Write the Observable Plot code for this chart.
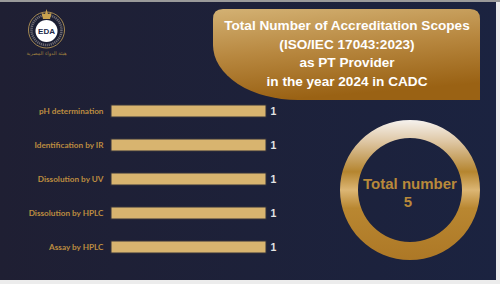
<!DOCTYPE html>
<html>
<head>
<meta charset="utf-8">
<script src="https://cdn.jsdelivr.net/npm/d3@7"></script>
<script src="https://cdn.jsdelivr.net/npm/@observablehq/plot@0.6"></script>
<style>
  html, body { margin: 0; padding: 0; background: #ececec; }
  #chart { width: 500px; height: 284px; overflow: hidden; }
  #chart svg { display: block; }
  g[aria-label="y-axis tick label"] text { font-weight: bold; }
</style>
</head>
<body>
<div id="chart"></div>
<script>
const categories = ["pH determination", "Identification by IR", "Dissolution by UV", "Dissolution by HPLC", "Assay by HPLC"];
const values = [1, 1, 1, 1, 1];
const titleLines = ["Total Number of Accreditation Scopes", "(ISO/IEC 17043:2023)", "as PT Provider", "in the year 2024 in CADC"];
const totalLabel = "Total number";
const logoText = "EDA";
const logoArabic = "هيئة الدواء المصرية";

const data = categories.map((c, i) => ({category: c, value: values[i]}));
const total = d3.sum(values);

const plot = Plot.plot({
  width: 500,
  height: 284,
  marginLeft: 111,
  marginRight: 234,
  marginTop: 83,
  marginBottom: 9,
  style: {background: "transparent", fontFamily: "Lato, 'Open Sans', sans-serif"},
  x: {domain: [0, 1], axis: null},
  y: {domain: categories, padding: 0.647, label: null},
  marks: [
    Plot.barX(data, {x: "value", y: "category", fill: "#d8b46f", stroke: "#34323a", strokeWidth: 1}),
    Plot.text(data, {x: "value", y: "category", text: d => String(d.value), dx: 4, textAnchor: "start",
      fill: "#e4e4e4", fontWeight: "bold", fontSize: 10.5, fontFamily: "Arial, 'Liberation Sans', sans-serif"}),
    Plot.axisY({tickSize: 0, tickPadding: 8, fontSize: 8.2, fill: "#bc8c40", fontWeight: "bold", label: null})
  ]
});

document.getElementById("chart").appendChild(plot);

const svg = d3.select(plot);
const defs = svg.insert("defs", ":first-child");

const bg = defs.append("linearGradient").attr("id", "bg").attr("x1", 0).attr("x2", 1).attr("y1", 0).attr("y2", 0);
bg.append("stop").attr("offset", 0).attr("stop-color", "#1f1f33");
bg.append("stop").attr("offset", 1).attr("stop-color", "#1b2340");

const tg = defs.append("linearGradient").attr("id", "tg").attr("x1", 0).attr("x2", 0.25).attr("y1", 0).attr("y2", 1);
tg.append("stop").attr("offset", 0).attr("stop-color", "#d3b173");
tg.append("stop").attr("offset", 0.5).attr("stop-color", "#b88840");
tg.append("stop").attr("offset", 1).attr("stop-color", "#9a6214");

const rg = defs.append("linearGradient").attr("id", "rg").attr("x1", 0).attr("x2", 0).attr("y1", 0).attr("y2", 1);
[[0, "#f6f2ee"], [0.15, "#dfc8a6"], [0.37, "#b5852f"], [0.5, "#dcb674"], [0.63, "#b98731"], [1, "#ad7826"]]
  .forEach(([o, c]) => rg.append("stop").attr("offset", o).attr("stop-color", c));

// background layer (inserted before plot marks)
const back = svg.insert("g", "defs + *");
back.append("rect").attr("x", 0).attr("y", 0).attr("width", 500).attr("height", 2).attr("fill", "#9a9a9a");
back.append("rect").attr("x", 0).attr("y", 2).attr("width", 496).attr("height", 278).attr("fill", "url(#bg)");

// title box
const fg = svg.append("g");
fg.append("path")
  .attr("d", "M213,19 Q213,9 223,9 L470,9 Q480,9 480,19 L480,100 L298,100 A85,55 0 0 1 213,45 Z")
  .attr("fill", "url(#tg)");
const tt = fg.append("text").attr("text-anchor", "middle").attr("fill", "#ffffff")
  .attr("font-family", "Arial, 'Liberation Sans', sans-serif").attr("font-weight", "bold").attr("font-size", 13.6);
titleLines.forEach((l, i) => tt.append("tspan").attr("x", 347).attr("y", 30 + i * 18.5).text(l));

// ring
const cx = 410, cy = 190, R = 70, r = 52;
fg.append("path")
  .attr("d", `M${cx - R},${cy} a${R},${R} 0 1 0 ${2 * R},0 a${R},${R} 0 1 0 ${-2 * R},0 Z M${cx - r},${cy} a${r},${r} 0 1 0 ${2 * r},0 a${r},${r} 0 1 0 ${-2 * r},0 Z`)
  .attr("fill", "url(#rg)").attr("fill-rule", "evenodd");
const rt = fg.append("text").attr("text-anchor", "middle").attr("fill", "#b8893a")
  .attr("font-family", "Arial, 'Liberation Sans', sans-serif").attr("font-weight", "bold").attr("font-size", 15);
rt.append("tspan").attr("x", cx).attr("y", 189).text(totalLabel);
rt.append("tspan").attr("x", cx - 2).attr("y", 207).text(String(total));

// logo
const lg = fg.append("g");
lg.append("circle").attr("cx", 46.5).attr("cy", 30).attr("r", 18).attr("fill", "#1b1e33").attr("stroke", "#c7a35a").attr("stroke-width", 0.8);
lg.append("circle").attr("cx", 46.5).attr("cy", 30).attr("r", 15).attr("fill", "none").attr("stroke", "#6d6a72").attr("stroke-width", 2.5).attr("stroke-dasharray", "1.2 0.8");
lg.append("circle").attr("cx", 46.5).attr("cy", 31).attr("r", 11).attr("fill", "#ffffff");
lg.append("path").attr("d", "M43,19 L50,19 L51.5,13 L48,14 L46.5,9 L45,14 L41.5,13 Z").attr("fill", "#c9a24e");
lg.append("text").attr("x", 46.5).attr("y", 34).attr("text-anchor", "middle").attr("fill", "#1e2a4a")
  .attr("font-family", "Arial, 'Liberation Sans', sans-serif").attr("font-weight", "bold").attr("font-size", 8).text(logoText);
lg.append("text").attr("x", 46.5).attr("y", 55).attr("text-anchor", "middle").attr("fill", "#a0803f")
  .attr("font-family", "'DejaVu Sans', sans-serif").attr("font-size", 5).text(logoArabic);
</script>
</body>
</html>
